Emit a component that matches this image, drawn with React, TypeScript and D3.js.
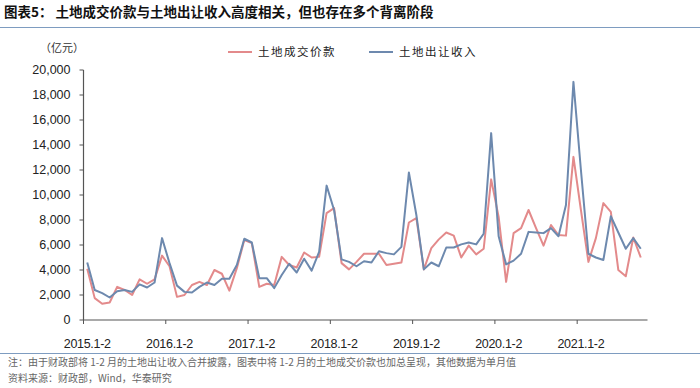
import React, { useRef, useEffect } from 'react';
import * as d3 from 'd3';

// 月份序列：每年 1-2 月合并，其余为单月
const years = ['2015', '2016', '2017', '2018', '2019', '2020', '2021'];
const months = ['1-2', '3', '4', '5', '6', '7', '8', '9', '10', '11', '12'];

// 土地成交价款（亿元）
const landDealValue = [
  4100, 1750, 1300, 1400, 2650, 2400, 2000, 3250, 2900, 3250, 5150,
  4300, 1850, 2000, 2800, 3050, 2800, 4000, 3700, 2350, 4150, 6400,
  6150, 2650, 2900, 2800, 5050, 4400, 4200, 5400, 5000, 5050, 8550,
  8950, 4550, 4050, 4650, 5300, 5300, 5300, 4400, 4500, 4600, 7800,
  8150, 4050, 5750, 6450, 7000, 6750, 5000, 5950, 5250, 5700, 11250,
  8250, 3050, 6950, 7350, 8800, 7350, 5950, 7600, 6800, 6750, 13050,
  8800, 4650, 6550, 9350, 8650, 4000, 3500, 6600, 5000,
];

// 土地出让收入（亿元）
const landTransferIncome = [
  4600, 2400, 2150, 1800, 2300, 2400, 2250, 2850, 2600, 3000, 6550,
  4550, 2750, 2250, 2200, 2650, 3000, 2800, 3300, 3300, 4400, 6500,
  6200, 3350, 3350, 2550, 3600, 4500, 3800, 4900, 3950, 5450, 10750,
  8800, 4850, 4650, 4300, 4700, 4600, 5500, 5350, 5250, 5850, 11800,
  8400, 4050, 4600, 4300, 5800, 5800, 6050, 6200, 6050, 6900, 14950,
  6700, 4450, 4750, 5300, 7050, 7000, 6950, 7350, 6700, 9200, 19050,
  12000, 5300, 5000, 4800, 8300, 7000, 5700, 6550, 5700,
];

const yTicks = [0, 2000, 4000, 6000, 8000, 10000, 12000, 14000, 16000, 18000, 20000];

const seriesNames = ['土地成交价款', '土地出让收入'];
const seriesColors = ['#E38A8B', '#6D89AE'];

const App: React.FC = () => {
  const svgRef = useRef<SVGSVGElement>(null);
  const width = 700;
  const height = 388;

  useEffect(() => {
    document.body.style.margin = '0';
    if (!svgRef.current) return;

    const svg = d3.select(svgRef.current);
    svg.selectAll('*').remove();

    const categories: string[] = [];
    years.forEach((y) => months.forEach((m) => categories.push(`${y}.${m}`)));
    const labels = categories.slice(0, landTransferIncome.length);

    const left = 83.5;
    const step = 7.48;
    const xScale = d3
      .scaleBand<string>()
      .domain(labels)
      .range([left, left + labels.length * step])
      .paddingInner(0)
      .paddingOuter(0);

    const yScale = d3.scaleLinear().domain([0, 20000]).range([320, 70]);

    const cjk = '"Noto Sans CJK SC", sans-serif';
    const latin = '"Liberation Sans", Arial, sans-serif';

    // Title
    svg
      .append('text')
      .attr('x', 4)
      .attr('y', 17)
      .attr('font-family', cjk)
      .attr('font-weight', 'bold')
      .attr('font-size', 13.5)
      .attr('fill', '#111')
      .text('图表5：  土地成交价款与土地出让收入高度相关，但也存在多个背离阶段');

    svg
      .append('line')
      .attr('x1', 0)
      .attr('x2', width)
      .attr('y1', 27.5)
      .attr('y2', 27.5)
      .attr('stroke', '#7E9CC0')
      .attr('stroke-width', 1.2);

    // Unit
    svg
      .append('text')
      .attr('x', 40)
      .attr('y', 52)
      .attr('font-family', cjk)
      .attr('font-size', 11)
      .attr('fill', '#333')
      .text('（亿元）');

    // Legend
    const legendX = [228, 369];
    seriesNames.forEach((name, i) => {
      svg
        .append('line')
        .attr('x1', legendX[i])
        .attr('x2', legendX[i] + 24)
        .attr('y1', 52)
        .attr('y2', 52)
        .attr('stroke', seriesColors[i])
        .attr('stroke-width', 2);
      svg
        .append('text')
        .attr('x', legendX[i] + 30)
        .attr('y', 56)
        .attr('font-family', cjk)
        .attr('font-size', 11.5)
        .attr('letter-spacing', 1.5)
        .attr('fill', '#222')
        .text(name);
    });

    // Y axis
    const yAxis = svg.append('g').attr('transform', `translate(${left},0)`);
    yAxis
      .append('line')
      .attr('y1', yScale(20000))
      .attr('y2', yScale(0))
      .attr('stroke', '#555')
      .attr('stroke-width', 1.2);
    yAxis
      .selectAll('.ytick')
      .data(yTicks)
      .enter()
      .append('line')
      .attr('x1', -4)
      .attr('x2', 0)
      .attr('y1', (d) => yScale(d))
      .attr('y2', (d) => yScale(d))
      .attr('stroke', '#555');
    yAxis
      .selectAll('.ylabel')
      .data(yTicks)
      .enter()
      .append('text')
      .attr('x', -13)
      .attr('y', (d) => yScale(d))
      .attr('dy', '0.35em')
      .attr('text-anchor', 'end')
      .attr('font-family', latin)
      .attr('font-size', 12.5)
      .attr('fill', '#222')
      .text((d) => d3.format(',')(d));

    // X axis
    const xEnd = left + labels.length * step + 3;
    svg
      .append('line')
      .attr('x1', left)
      .attr('x2', xEnd)
      .attr('y1', 320)
      .attr('y2', 320)
      .attr('stroke', '#555')
      .attr('stroke-width', 1.2);

    const yearStarts = labels.filter((_, i) => i % 11 === 0);
    svg
      .selectAll('.xtick')
      .data(yearStarts)
      .enter()
      .append('line')
      .attr('x1', (d) => xScale(d) as number)
      .attr('x2', (d) => xScale(d) as number)
      .attr('y1', 320)
      .attr('y2', 324)
      .attr('stroke', '#555');

    svg
      .selectAll('.xlabel')
      .data(yearStarts)
      .enter()
      .append('text')
      .attr('x', (d) => (xScale(d) as number) + xScale.bandwidth() / 2)
      .attr('y', 348)
      .attr('text-anchor', 'middle')
      .attr('font-family', latin)
      .attr('font-size', 12.5)
      .attr('letter-spacing', -0.3)
      .attr('fill', '#222')
      .text((d) => d);

    // Lines
    const allSeries = [landDealValue, landTransferIncome];
    allSeries.forEach((values, s) => {
      const line = d3
        .line<number>()
        .x((_, i) => (xScale(labels[i]) as number) + xScale.bandwidth() / 2)
        .y((d) => yScale(d));
      svg
        .append('path')
        .datum(values)
        .attr('fill', 'none')
        .attr('stroke', seriesColors[s])
        .attr('stroke-width', 2)
        .attr('stroke-linejoin', 'round')
        .attr('d', line);
    });

    // Bottom rule and notes
    svg
      .append('line')
      .attr('x1', 0)
      .attr('x2', width)
      .attr('y1', 353.5)
      .attr('y2', 353.5)
      .attr('stroke', '#7E9CC0')
      .attr('stroke-width', 1.2);

    svg
      .append('text')
      .attr('x', 8)
      .attr('y', 366)
      .attr('font-family', cjk)
      .attr('font-size', 10)
      .attr('fill', '#666')
      .text('注：由于财政部将 1-2 月的土地出让收入合并披露，图表中将 1-2 月的土地成交价款也加总呈现，其他数据为单月值');

    svg
      .append('text')
      .attr('x', 8)
      .attr('y', 382)
      .attr('font-family', cjk)
      .attr('font-size', 10)
      .attr('fill', '#666')
      .text('资料来源：财政部，Wind，华泰研究');
  }, []);

  return (
    <div style={{ width, height, overflow: 'hidden' }}>
      <svg ref={svgRef} width={width} height={height} style={{ display: 'block' }} />
    </div>
  );
};

export default App;
